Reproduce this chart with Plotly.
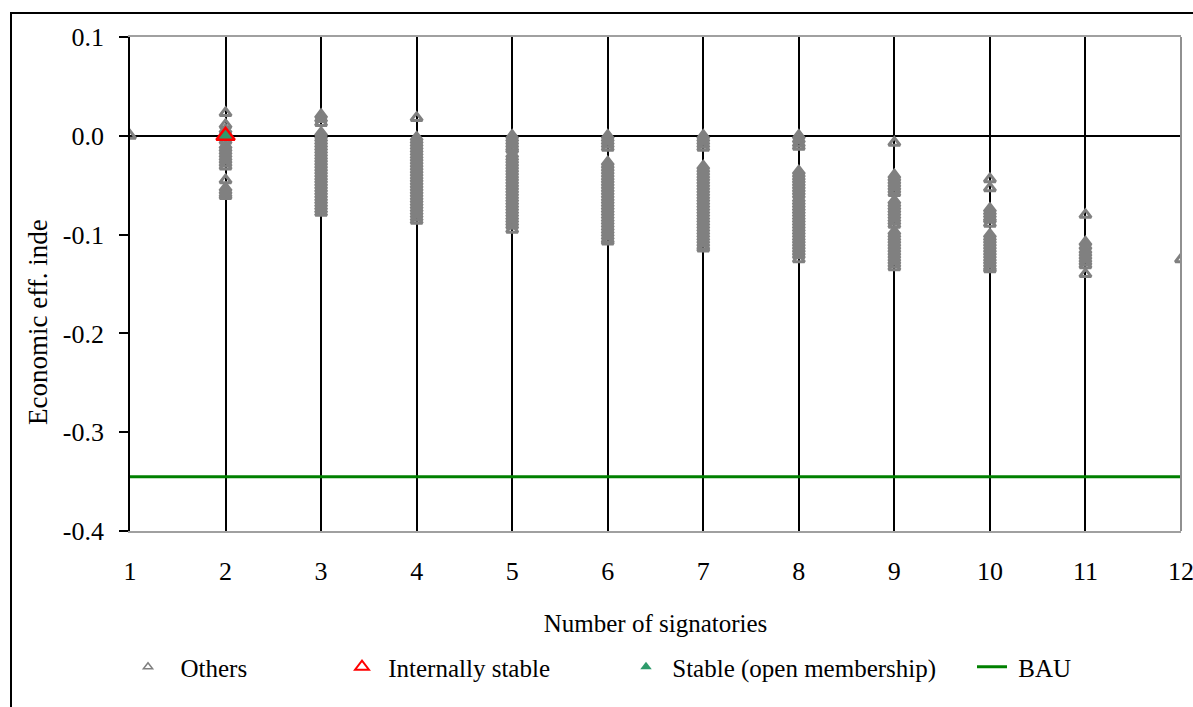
import plotly.graph_objects as go

# ---- data ----
others_by_n = {
    1: [0.000],
    2: [0.023, 0.011, 0.006, 0.003, -0.005, -0.010, -0.013, -0.016, -0.019, -0.022,
        -0.025, -0.028, -0.031, -0.045, -0.053, -0.056, -0.059, -0.061],
    3: [0.021, 0.017, 0.013, 0.003, 0.000, -0.003, -0.006, -0.009, -0.012, -0.015,
        -0.018, -0.021, -0.024, -0.027, -0.030, -0.033, -0.036, -0.039, -0.042,
        -0.045, -0.048, -0.051, -0.054, -0.057, -0.060, -0.063, -0.066, -0.069,
        -0.072, -0.075, -0.078],
    4: [0.018, -0.002, -0.005, -0.008, -0.011, -0.014, -0.017, -0.020, -0.023, -0.026,
        -0.029, -0.032, -0.035, -0.038, -0.041, -0.044, -0.047, -0.050, -0.053,
        -0.056, -0.059, -0.062, -0.065, -0.068, -0.071, -0.074, -0.077, -0.080,
        -0.083, -0.086],
    5: [0.000, -0.003, -0.006, -0.009, -0.012, -0.014, -0.019, -0.022, -0.025, -0.028,
        -0.031, -0.034, -0.037, -0.040, -0.043, -0.046, -0.049, -0.052, -0.055,
        -0.058, -0.061, -0.064, -0.067, -0.070, -0.073, -0.076, -0.079, -0.082,
        -0.085, -0.088, -0.091, -0.095],
    6: [0.000, -0.003, -0.006, -0.009, -0.012, -0.027, -0.030, -0.033, -0.036, -0.039,
        -0.042, -0.045, -0.048, -0.051, -0.054, -0.057, -0.060, -0.063, -0.066,
        -0.069, -0.072, -0.075, -0.078, -0.081, -0.084, -0.087, -0.090, -0.093,
        -0.096, -0.099, -0.102, -0.105, -0.107],
    7: [0.000, -0.003, -0.006, -0.009, -0.012, -0.031, -0.034, -0.037, -0.040, -0.043,
        -0.046, -0.049, -0.052, -0.055, -0.058, -0.061, -0.064, -0.067, -0.070,
        -0.073, -0.076, -0.079, -0.082, -0.085, -0.088, -0.091, -0.094, -0.097,
        -0.100, -0.103, -0.106, -0.109, -0.112, -0.114],
    8: [0.000, -0.004, -0.008, -0.011, -0.036, -0.039, -0.042, -0.045, -0.048, -0.051,
        -0.054, -0.057, -0.060, -0.064, -0.067, -0.070, -0.073, -0.076, -0.079,
        -0.082, -0.085, -0.088, -0.091, -0.094, -0.097, -0.100, -0.103, -0.106,
        -0.109, -0.112, -0.115, -0.118, -0.121, -0.125],
    9: [-0.007, -0.040, -0.043, -0.046, -0.049, -0.052, -0.055, -0.058, -0.066, -0.069,
        -0.072, -0.075, -0.078, -0.081, -0.084, -0.087, -0.090, -0.097, -0.100,
        -0.103, -0.106, -0.109, -0.112, -0.115, -0.118, -0.121, -0.124, -0.127,
        -0.130, -0.133],
    10: [-0.044, -0.053, -0.074, -0.077, -0.080, -0.083, -0.085, -0.089, -0.100, -0.103,
         -0.106, -0.109, -0.112, -0.115, -0.118, -0.121, -0.124, -0.127, -0.130,
         -0.133, -0.135],
    11: [-0.080, -0.108, -0.112, -0.116, -0.119, -0.122, -0.125, -0.128, -0.131, -0.140],
    12: [-0.125],
}
internally_stable_x = [2]
internally_stable_y = [0.000]
stable_open_x = [2]
stable_open_y = [0.000]
bau_x = [1, 12]
bau_y = [-0.345, -0.345]

x_ticks = [1, 2, 3, 4, 5, 6, 7, 8, 9, 10, 11, 12]
y_ticks = [-0.4, -0.3, -0.2, -0.1, 0.0, 0.1]
y_ticktext = ["-0.4", "-0.3", "-0.2", "-0.1", "0.0", "0.1"]

others_x = [n for n, vals in others_by_n.items() for _ in vals]
others_y = [v for vals in others_by_n.values() for v in vals]

GRAY = "#808080"
GREEN = "#2E9B6B"
FONT = "'Liberation Serif', Tinos, 'Times New Roman', 'DejaVu Serif', serif"

fig = go.Figure()

fig.add_trace(go.Scatter(x=bau_x, y=bau_y, mode="lines", name="BAU",
                         line=dict(color="#008000", width=3), showlegend=False,
                         hoverinfo="skip"))
fig.add_trace(go.Scatter(x=others_x, y=others_y, mode="markers", name="Others",
                         marker=dict(symbol="triangle-up-open", size=10,
                                     color=GRAY, line=dict(color=GRAY, width=3)),
                         showlegend=False))
fig.add_trace(go.Scatter(x=stable_open_x, y=stable_open_y, mode="markers",
                         name="Stable (open membership)",
                         marker=dict(symbol="triangle-up", size=14, color=GREEN,
                                     line=dict(width=0)),
                         showlegend=False))
fig.add_trace(go.Scatter(x=internally_stable_x, y=internally_stable_y, mode="markers",
                         name="Internally stable",
                         marker=dict(symbol="triangle-up-open", size=16, color="#FF0000",
                                     line=dict(color="#FF0000", width=2.5)),
                         showlegend=False))

# legend entries
fig.add_trace(go.Scatter(x=[None], y=[None], mode="markers", name="\u00a0\u00a0Others",
                         marker=dict(symbol="triangle-up-open", size=8, color=GRAY,
                                     line=dict(color=GRAY, width=1.5)),
                         legend="legend"))
fig.add_trace(go.Scatter(x=[None], y=[None], mode="markers", name="\u00a0Internally stable",
                         marker=dict(symbol="triangle-up-open", size=12, color="#FF0000",
                                     line=dict(color="#FF0000", width=2)),
                         legend="legend2"))
fig.add_trace(go.Scatter(x=[None], y=[None], mode="markers",
                         name="\u00a0Stable (open membership)",
                         marker=dict(symbol="triangle-up", size=10, color=GREEN),
                         legend="legend3"))
fig.add_trace(go.Scatter(x=[None], y=[None], mode="lines", name="\u00a0BAU",
                         line=dict(color="#008000", width=3), legend="legend4"))

# body margin is removed by the post script, so no page offset
OFF = 0
PL, PR, PT, PB = 130, 1181, 37, 531  # plot area in page pixels

def px_to_xp(px):
    return (px - PL) / float(PR - PL)

def py_to_yp(py):
    return (PB - py) / float(PB - PT)

W, H = 1193 - OFF, 707 - OFF

leg_common = dict(orientation="h", yanchor="middle", xanchor="left",
                  font=dict(family=FONT, size=25, color="black"),
                  bgcolor="rgba(0,0,0,0)", borderwidth=0)

fig.update_layout(
    width=W, height=H, autosize=False,
    margin=dict(l=PL - OFF, r=W - (PR - OFF), t=PT - OFF, b=H - (PB - OFF)),
    paper_bgcolor="white", plot_bgcolor="white",
    font=dict(family=FONT, size=25, color="black"),
    legend=dict(x=px_to_xp(128), y=py_to_yp(667), **leg_common),
    legend2=dict(x=px_to_xp(342), y=py_to_yp(667), **leg_common),
    legend3=dict(x=px_to_xp(626), y=py_to_yp(667), **leg_common),
    legend4=dict(x=px_to_xp(972), y=py_to_yp(667), **leg_common),
    xaxis=dict(range=[1, 12], tickvals=x_ticks, ticktext=[str(t) for t in x_ticks],
               showgrid=True, gridcolor="black", gridwidth=1.5,
               showline=True, linecolor="#A0A0A0", linewidth=2, mirror=True,
               ticks="outside", ticklen=16, tickcolor="rgba(0,0,0,0)",
               tickfont=dict(family=FONT, size=26, color="black"),
               ticklabeloverflow="allow", automargin=False,
               zeroline=False,
               title=dict(text="Number of signatories", standoff=29,
                          font=dict(family=FONT, size=25, color="black"))),
    yaxis=dict(range=[-0.4, 0.1], tickvals=y_ticks, ticktext=y_ticktext,
               showgrid=False, zeroline=True, zerolinecolor="black", zerolinewidth=1.8,
               showline=True, linecolor="black", linewidth=1.8,
               ticks="outside", ticklen=9, tickcolor="black", tickwidth=1.5,
               ticklabelstandoff=10, automargin=False,
               tickfont=dict(family=FONT, size=26, color="black"),
               title=None),
    annotations=[dict(text="Economic eff. inde", x=px_to_xp(38), y=py_to_yp(322),
                      xref="paper", yref="paper", xanchor="center", yanchor="middle",
                      textangle=-90, showarrow=False,
                      font=dict(family=FONT, size=27, color="black"))],
    shapes=[
        dict(type="line", xref="paper", yref="paper", x0=1, x1=1, y0=0, y1=1,
             line=dict(color="#909090", width=2), layer="above"),
        dict(type="rect", xref="paper", yref="paper",
             x0=px_to_xp(11), x1=1.2, y0=-0.6, y1=py_to_yp(13),
             line=dict(color="black", width=2), fillcolor="rgba(0,0,0,0)",
             layer="below"),
    ],
)

fig.write_html("out.html", config={"displayModeBar": False},
               post_script="document.body.style.margin='0';"
                           "document.body.style.overflow='hidden';")
